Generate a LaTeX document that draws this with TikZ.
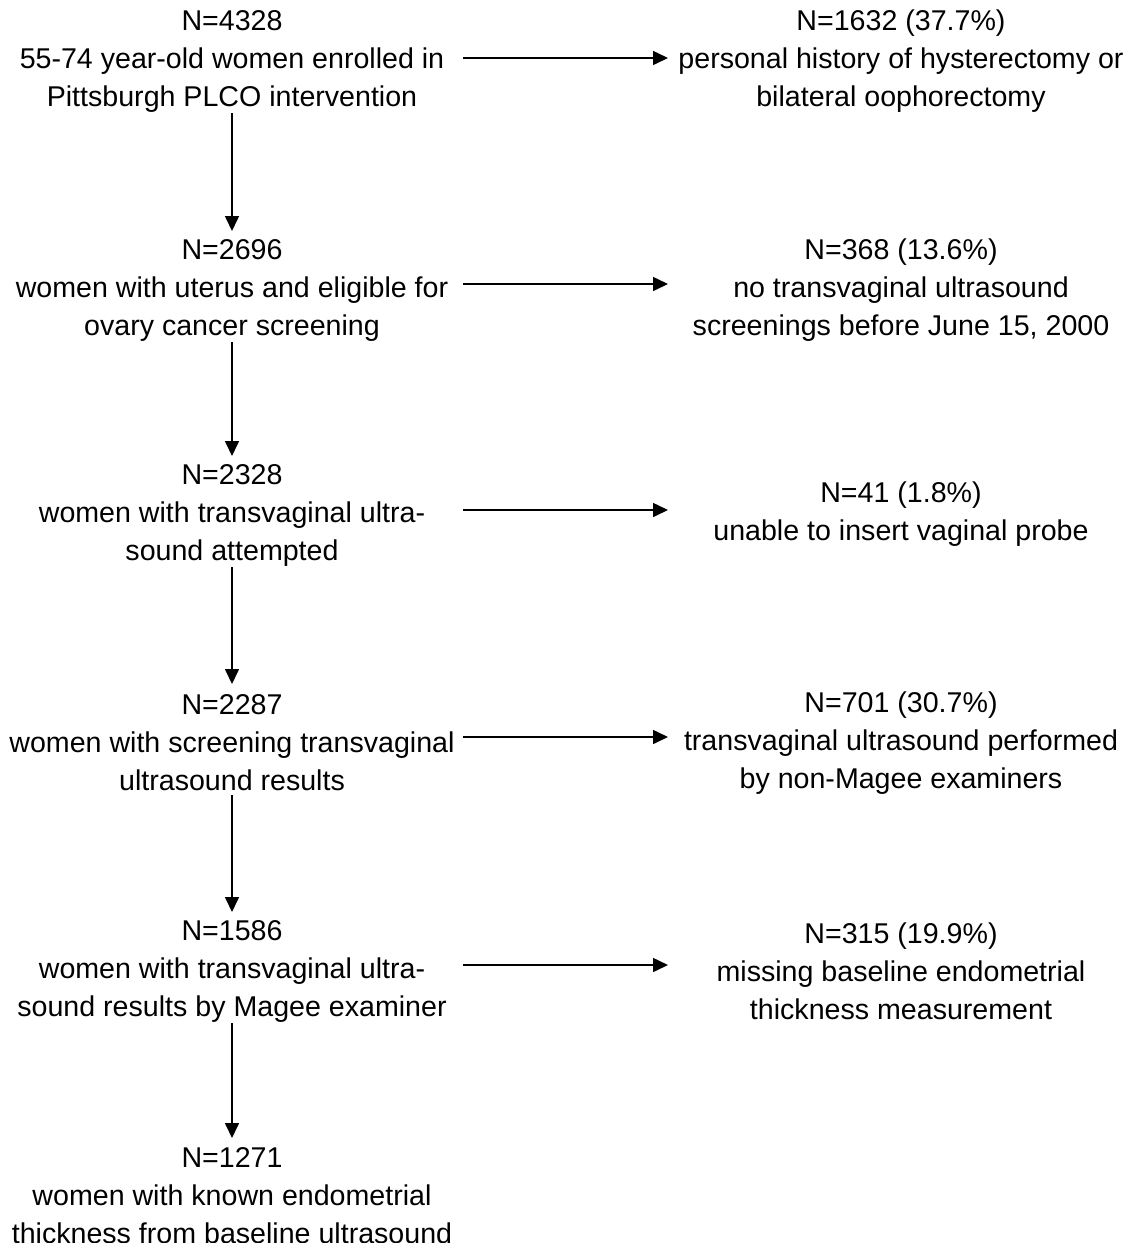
\documentclass[tikz,border=0pt]{standalone}
\usepackage{fontspec}
\setmainfont{Liberation Sans}
\usetikzlibrary{arrows.meta,calc}
\begin{document}
\begin{tikzpicture}[x=1pt,y=-1pt,
  txt/.style={align=center,inner sep=0pt,font=\fontsize{28.6}{38}\selectfont},
  arr/.style={line width=1.6pt,-{Triangle[length=15pt,width=14pt]}}]
\useasboundingbox (0,0) rectangle (1126,1243);
\node[txt] (n1) at (232,61) {N=4328\\55-74 year-old women enrolled in\\Pittsburgh PLCO intervention};
\node[txt] (n2) at (232,290) {N=2696\\women with uterus and eligible for\\ovary cancer screening};
\node[txt] (n3) at (232,515) {N=2328\\women with transvaginal ultra-\\sound attempted};
\node[txt] (n4) at (232,743) {N=2287\\women with screening transvaginal\\ultrasound results};
\node[txt] (n5) at (232,971) {N=1586\\women with transvaginal ultra-\\sound results by Magee examiner};
\node[txt] (n6) at (232,1196) {N=1271\\women with known endometrial\\thickness from baseline ultrasound};
\node[txt] (r1) at (901,61) {N=1632 (37.7\%)\\personal history of hysterectomy or\\bilateral oophorectomy};
\node[txt] (r2) at (901,290) {N=368 (13.6\%)\\no transvaginal ultrasound\\screenings before June 15, 2000};
\node[txt] (r3) at (901,514) {N=41 (1.8\%)\\unable to insert vaginal probe};
\node[txt] (r4) at (901,743) {N=701 (30.7\%)\\transvaginal ultrasound performed\\by non-Magee examiners};
\node[txt] (r5) at (901,971) {N=315 (19.9\%)\\missing baseline endometrial\\thickness measurement};
\foreach \a/\b in {n1/n2,n2/n3,n3/n4,n4/n5}
  \draw[arr] ($(\a.center)+(0,52)$) -- ($(\b.center)+(0,-59)$);
\draw[arr] ($(n5.center)+(0,52)$) -- ($(n6.center)+(0,-58)$);
\draw[arr] ($(n1.center)+(231,-3)$) -- ($(r1.center)+(-233,-3)$);
\draw[arr] ($(n2.center)+(231,-6)$) -- ($(r2.center)+(-233,-6)$);
\draw[arr] ($(n3.center)+(231,-5)$) -- ($(r3.center)+(-233,-4)$);
\draw[arr] ($(n4.center)+(231,-6)$) -- ($(r4.center)+(-233,-6)$);
\draw[arr] ($(n5.center)+(231,-6)$) -- ($(r5.center)+(-233,-6)$);
\end{tikzpicture}
\end{document}
